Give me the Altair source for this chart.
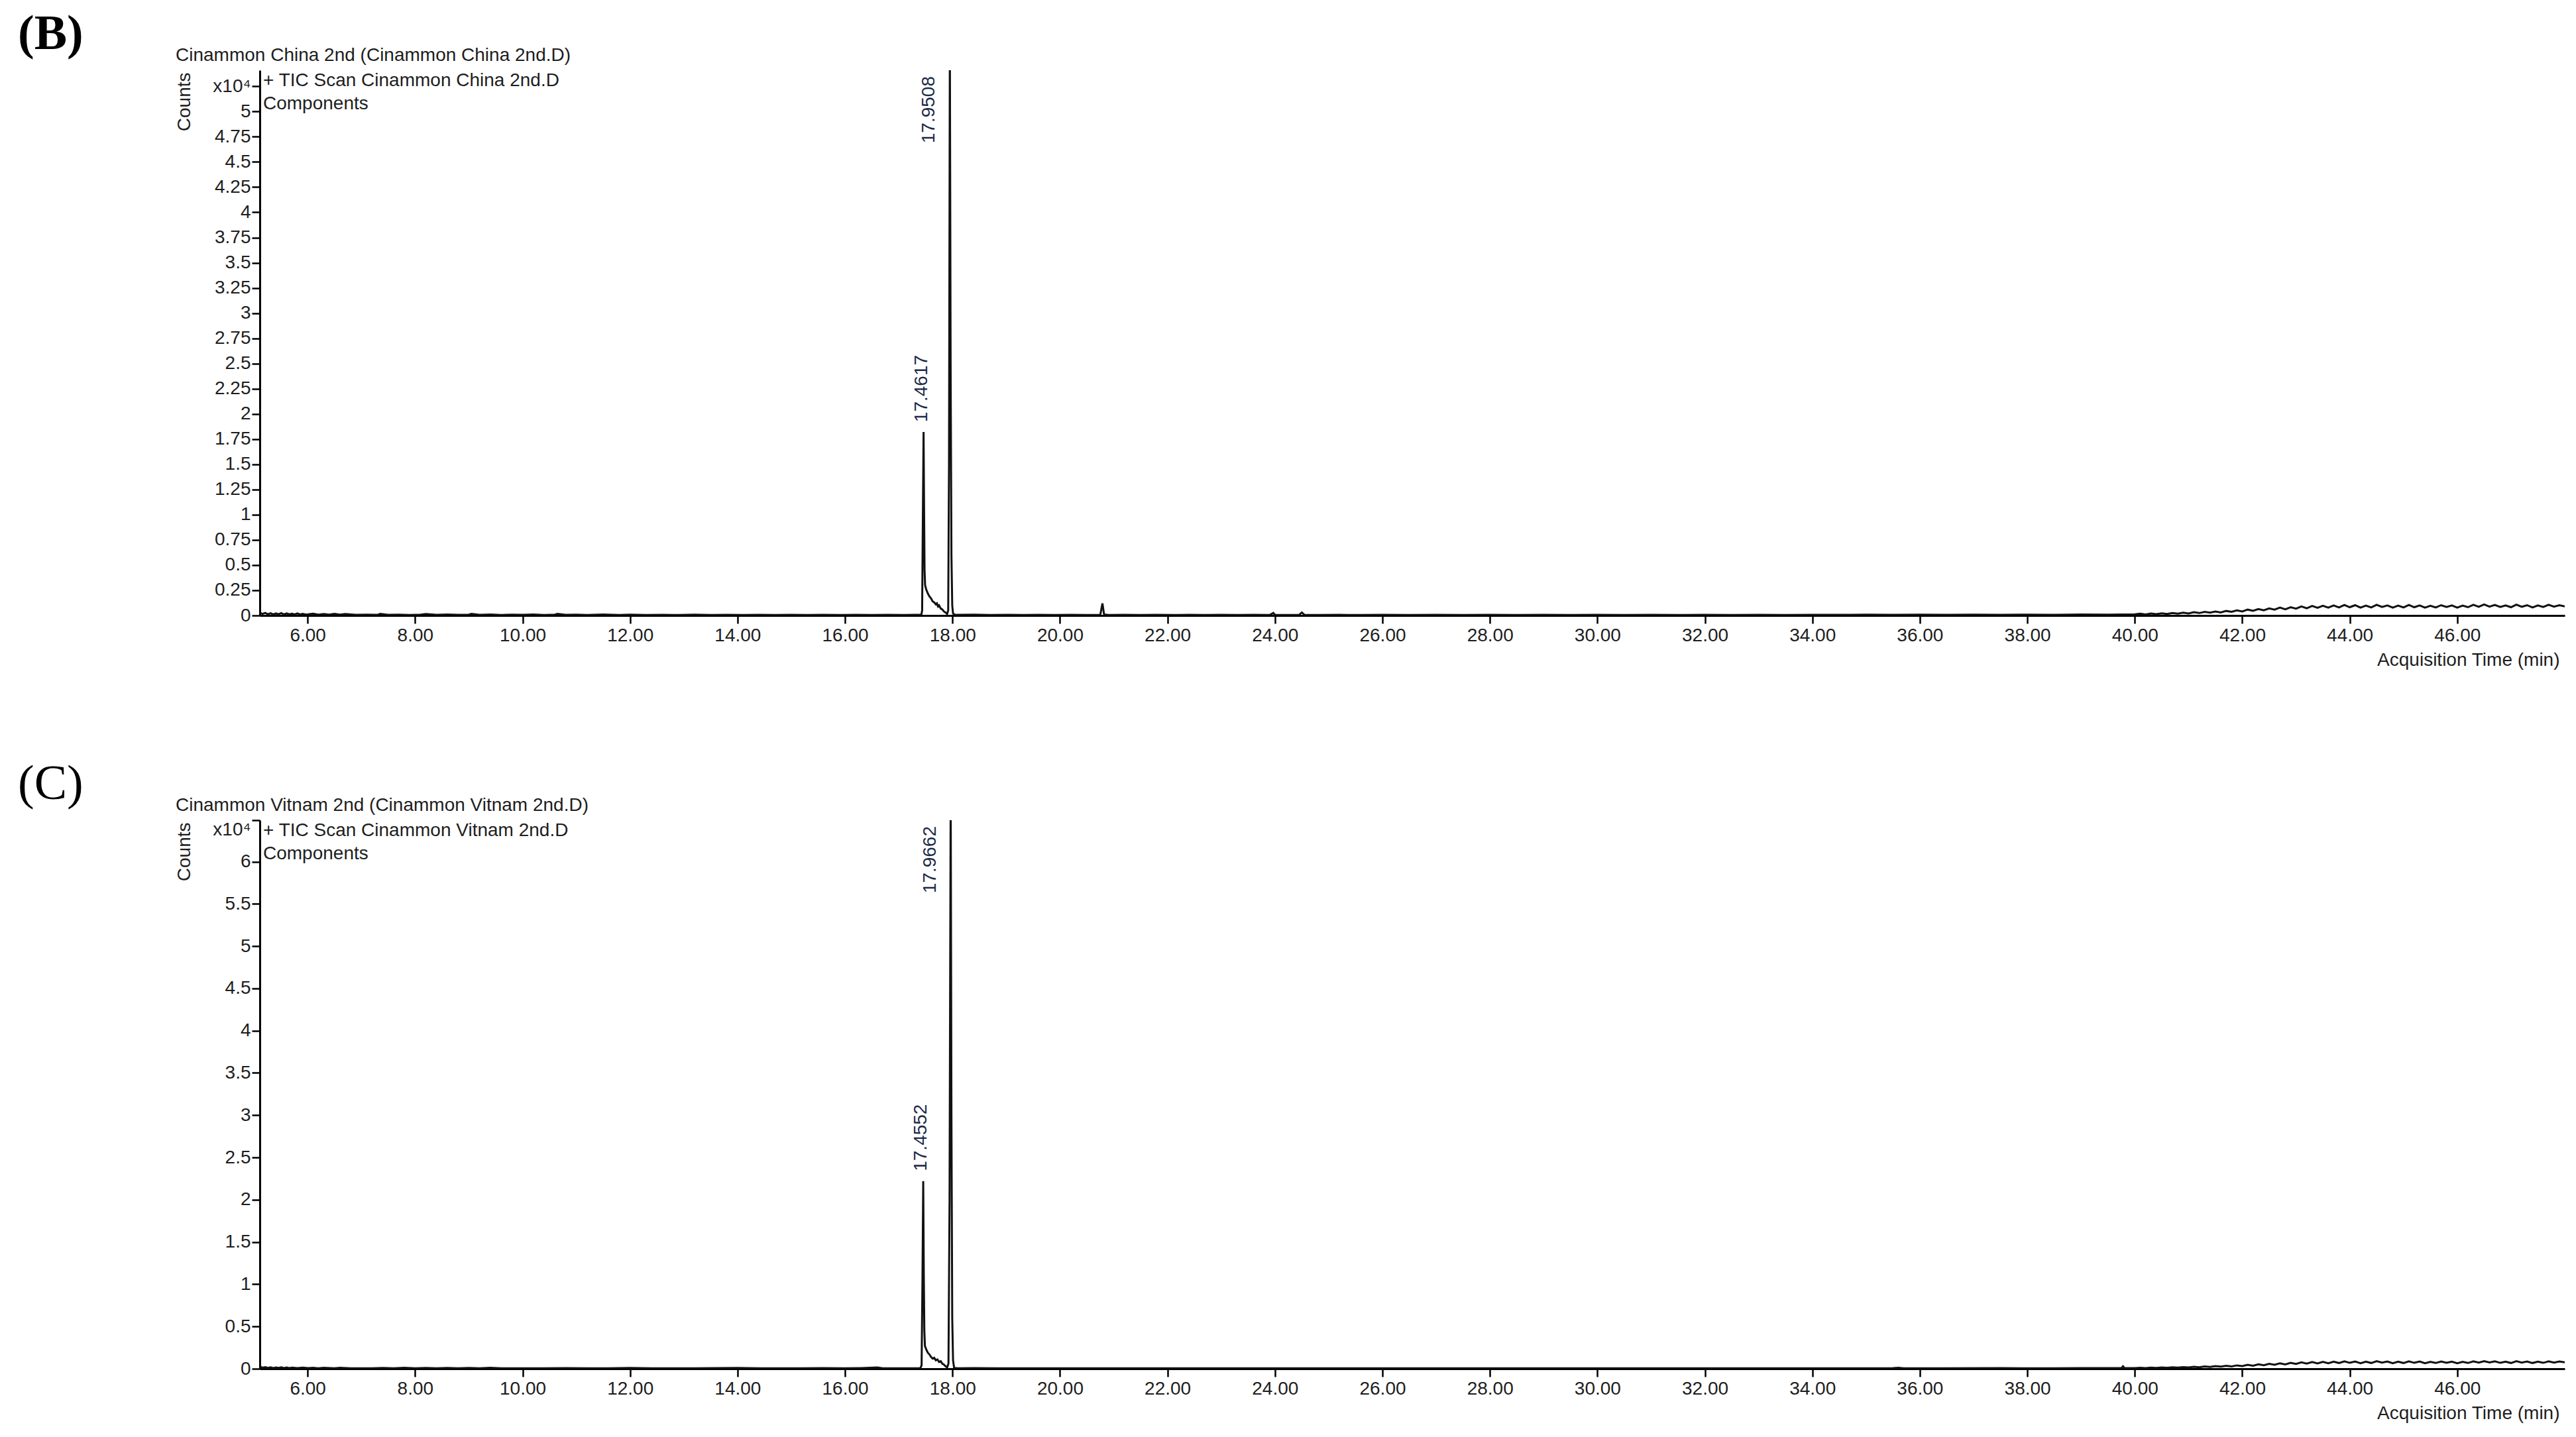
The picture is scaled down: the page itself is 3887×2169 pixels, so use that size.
import altair as alt
import pandas as pd

# ---------------- data (counts in units of x10^4) ----------------
X_TICKS = [6, 8, 10, 12, 14, 16, 18, 20, 22, 24, 26, 28, 30, 32, 34, 36, 38, 40, 42, 44, 46]
B_Y_TICKS = [0, 0.25, 0.5, 0.75, 1, 1.25, 1.5, 1.75, 2, 2.25, 2.5, 2.75, 3, 3.25, 3.5,
             3.75, 4, 4.25, 4.5, 4.75, 5, 5.25]
C_Y_TICKS = [0, 0.5, 1, 1.5, 2, 2.5, 3, 3.5, 4, 4.5, 5, 5.5, 6, 6.49]

B_EARLY = [(5.11, 0.03), (5.16, 0.015), (5.21, 0.025), (5.26, 0.012), (5.31, 0.022), (5.36, 0.01),
           (5.41, 0.02), (5.46, 0.012), (5.51, 0.024), (5.56, 0.01), (5.61, 0.02), (5.66, 0.012),
           (5.71, 0.018), (5.76, 0.01), (5.81, 0.02), (5.86, 0.01), (5.91, 0.016), (5.96, 0.01),
           (6.01, 0.012), (6.1, 0.018), (6.2, 0.008), (6.3, 0.015), (6.4, 0.008), (6.5, 0.016),
           (6.6, 0.008), (6.7, 0.014), (6.9, 0.006), (7.1, 0.008), (7.3, 0.006), (7.35, 0.016),
           (7.5, 0.006), (7.7, 0.008), (7.9, 0.005), (8.1, 0.008), (8.2, 0.015), (8.4, 0.006),
           (8.6, 0.01), (8.8, 0.006), (9.0, 0.008), (9.05, 0.016), (9.2, 0.006), (9.4, 0.01),
           (9.6, 0.005), (9.8, 0.008), (10.0, 0.006), (10.2, 0.01), (10.4, 0.005), (10.6, 0.008),
           (10.65, 0.016), (10.8, 0.006), (11.0, 0.008), (11.2, 0.005), (11.5, 0.01), (11.8, 0.005),
           (12.0, 0.008), (12.3, 0.005), (12.6, 0.007), (12.9, 0.005), (13.2, 0.008), (13.5, 0.005),
           (13.8, 0.007), (14.1, 0.005), (14.4, 0.007), (14.7, 0.005), (15.0, 0.006), (15.3, 0.005),
           (15.6, 0.007), (15.9, 0.005), (16.2, 0.006), (16.5, 0.005), (16.8, 0.006), (17.1, 0.005),
           (17.3, 0.006)]
B_PEAKS = [(17.42, 0.006), (17.435, 0.05), (17.447, 0.9), (17.4617, 1.82), (17.472, 1.0),
           (17.48, 0.45), (17.49, 0.30), (17.51, 0.26), (17.54, 0.22), (17.57, 0.19), (17.60, 0.17),
           (17.63, 0.14), (17.66, 0.13), (17.69, 0.11), (17.71, 0.12), (17.73, 0.09), (17.75, 0.10),
           (17.78, 0.07), (17.81, 0.06), (17.84, 0.04), (17.87, 0.03), (17.90, 0.015), (17.92, 0.05),
           (17.935, 1.5), (17.9508, 5.7), (17.965, 2.5), (17.98, 0.6), (17.995, 0.1), (18.01, 0.02),
           (18.04, 0.008)]
B_MID = [(18.1, 0.006), (18.4, 0.008), (18.7, 0.005), (19.0, 0.007), (19.3, 0.005), (19.6, 0.007),
         (19.9, 0.005), (20.2, 0.006), (20.5, 0.005), (20.75, 0.006), (20.79, 0.12), (20.82, 0.01),
         (20.9, 0.005), (21.2, 0.006), (21.5, 0.005), (21.8, 0.006), (22.1, 0.005), (22.4, 0.006),
         (22.7, 0.005), (23.0, 0.006), (23.3, 0.005), (23.6, 0.006), (23.9, 0.005), (23.97, 0.025),
         (24.0, 0.006), (24.2, 0.005), (24.45, 0.006), (24.5, 0.03), (24.55, 0.006), (24.8, 0.005),
         (25.2, 0.006), (25.6, 0.005), (26.0, 0.006), (26.5, 0.005), (27.0, 0.006), (27.5, 0.005),
         (28.0, 0.006), (28.5, 0.005), (29.0, 0.006), (29.5, 0.005), (30.0, 0.006), (30.5, 0.005),
         (31.0, 0.006), (31.5, 0.005), (32.0, 0.006), (32.5, 0.005), (33.0, 0.006), (33.5, 0.005),
         (34.0, 0.007), (34.5, 0.006), (35.0, 0.008), (35.5, 0.006), (36.0, 0.008), (36.5, 0.006),
         (37.0, 0.009), (37.5, 0.007), (38.0, 0.009), (38.5, 0.007), (39.0, 0.01), (39.5, 0.008)]
B_LATE = [(40.0, 0.012), (40.1, 0.018), (40.2, 0.010), (40.3, 0.020), (40.4, 0.014), (40.5, 0.022),
          (40.6, 0.015), (40.7, 0.025), (40.8, 0.018), (40.9, 0.028), (41.0, 0.020), (41.1, 0.032),
          (41.2, 0.024), (41.3, 0.036), (41.4, 0.028), (41.5, 0.040), (41.6, 0.030), (41.7, 0.045),
          (41.8, 0.036), (41.9, 0.050), (42.0, 0.040), (42.1, 0.058), (42.2, 0.046), (42.3, 0.064),
          (42.4, 0.052), (42.5, 0.070), (42.6, 0.058), (42.7, 0.078), (42.8, 0.062), (42.9, 0.082),
          (43.0, 0.068), (43.1, 0.090), (43.2, 0.072), (43.3, 0.094), (43.4, 0.076), (43.5, 0.096),
          (43.6, 0.078), (43.7, 0.100), (43.8, 0.080), (43.9, 0.104), (44.0, 0.082), (44.1, 0.102),
          (44.2, 0.078), (44.3, 0.098), (44.4, 0.080), (44.5, 0.106), (44.6, 0.084), (44.7, 0.100),
          (44.8, 0.078), (44.9, 0.098), (45.0, 0.080), (45.1, 0.104), (45.2, 0.082), (45.3, 0.100),
          (45.4, 0.078), (45.5, 0.096), (45.6, 0.080), (45.7, 0.102), (45.8, 0.084), (45.9, 0.100),
          (46.0, 0.078), (46.1, 0.098), (46.2, 0.082), (46.3, 0.106), (46.4, 0.086), (46.5, 0.110),
          (46.6, 0.088), (46.7, 0.104), (46.8, 0.084), (46.9, 0.100), (47.0, 0.082), (47.1, 0.108),
          (47.2, 0.086), (47.3, 0.102), (47.4, 0.080), (47.5, 0.100), (47.6, 0.084), (47.7, 0.106),
          (47.8, 0.088), (47.9, 0.102), (48.0, 0.090)]

C_EARLY = [(5.11, 0.03), (5.16, 0.012), (5.21, 0.02), (5.26, 0.01), (5.31, 0.018), (5.36, 0.008),
           (5.41, 0.016), (5.46, 0.01), (5.51, 0.018), (5.56, 0.008), (5.61, 0.015), (5.66, 0.008),
           (5.71, 0.014), (5.81, 0.008), (5.91, 0.013), (6.01, 0.007), (6.1, 0.012), (6.2, 0.006),
           (6.3, 0.012), (6.5, 0.006), (6.6, 0.011), (6.8, 0.005), (7.0, 0.006), (7.2, 0.005),
           (7.4, 0.01), (7.6, 0.005), (7.8, 0.011), (8.0, 0.005), (8.2, 0.01), (8.4, 0.005),
           (8.6, 0.009), (8.8, 0.005), (9.0, 0.01), (9.2, 0.005), (9.4, 0.012), (9.6, 0.005),
           (10.0, 0.006), (10.4, 0.005), (10.8, 0.007), (11.2, 0.005), (11.6, 0.006), (12.0, 0.009),
           (12.4, 0.005), (12.8, 0.006), (13.2, 0.005), (13.6, 0.007), (14.0, 0.009), (14.4, 0.005),
           (14.8, 0.006), (15.2, 0.005), (15.6, 0.007), (16.0, 0.005), (16.3, 0.008), (16.6, 0.015),
           (16.7, 0.006), (17.0, 0.005), (17.2, 0.006)]
C_PEAKS = [(17.40, 0.006), (17.425, 0.04), (17.44, 1.0), (17.4552, 2.22), (17.466, 1.1),
           (17.476, 0.45), (17.487, 0.27), (17.51, 0.23), (17.54, 0.19), (17.57, 0.17), (17.60, 0.14),
           (17.63, 0.12), (17.66, 0.13), (17.69, 0.10), (17.72, 0.11), (17.75, 0.08), (17.78, 0.09),
           (17.81, 0.06), (17.84, 0.05), (17.87, 0.03), (17.90, 0.015), (17.925, 0.06), (17.945, 2.0),
           (17.9662, 6.9), (17.98, 3.0), (17.995, 0.6), (18.01, 0.1), (18.03, 0.01)]
C_MID = [(18.1, 0.006), (18.4, 0.007), (18.8, 0.005), (19.2, 0.006), (19.6, 0.005), (20.0, 0.006),
         (20.5, 0.005), (21.0, 0.006), (21.5, 0.005), (22.0, 0.006), (22.5, 0.005), (23.0, 0.006),
         (23.5, 0.005), (24.0, 0.006), (24.5, 0.005), (25.0, 0.006), (25.5, 0.005), (26.0, 0.006),
         (26.5, 0.005), (27.0, 0.006), (27.5, 0.005), (28.0, 0.006), (28.5, 0.005), (29.0, 0.006),
         (29.5, 0.005), (30.0, 0.006), (30.5, 0.005), (31.0, 0.006), (31.5, 0.005), (32.0, 0.006),
         (32.5, 0.005), (33.0, 0.006), (33.5, 0.005), (34.0, 0.006), (34.5, 0.005), (35.0, 0.006),
         (35.5, 0.007), (35.6, 0.012), (35.7, 0.006), (36.5, 0.006), (37.5, 0.007), (38.5, 0.006),
         (39.0, 0.008), (39.5, 0.007), (39.75, 0.008), (39.78, 0.03), (39.81, 0.008)]
C_LATE = [(40.0, 0.008), (40.1, 0.012), (40.2, 0.008), (40.3, 0.014), (40.4, 0.010), (40.5, 0.016),
          (40.6, 0.012), (40.7, 0.018), (40.8, 0.013), (40.9, 0.020), (41.0, 0.015), (41.1, 0.024),
          (41.2, 0.018), (41.3, 0.028), (41.4, 0.022), (41.5, 0.032), (41.6, 0.025), (41.7, 0.036),
          (41.8, 0.028), (41.9, 0.040), (42.0, 0.032), (42.1, 0.046), (42.2, 0.036), (42.3, 0.052),
          (42.4, 0.042), (42.5, 0.058), (42.6, 0.048), (42.7, 0.064), (42.8, 0.052), (42.9, 0.070),
          (43.0, 0.058), (43.1, 0.076), (43.2, 0.062), (43.3, 0.080), (43.4, 0.064), (43.5, 0.082),
          (43.6, 0.066), (43.7, 0.084), (43.8, 0.068), (43.9, 0.088), (44.0, 0.070), (44.1, 0.086),
          (44.2, 0.066), (44.3, 0.084), (44.4, 0.068), (44.5, 0.090), (44.6, 0.072), (44.7, 0.086),
          (44.8, 0.066), (44.9, 0.084), (45.0, 0.068), (45.1, 0.088), (45.2, 0.070), (45.3, 0.086),
          (45.4, 0.066), (45.5, 0.082), (45.6, 0.068), (45.7, 0.086), (45.8, 0.070), (45.9, 0.084),
          (46.0, 0.066), (46.1, 0.082), (46.2, 0.068), (46.3, 0.088), (46.4, 0.072), (46.5, 0.090),
          (46.6, 0.074), (46.7, 0.088), (46.8, 0.070), (46.9, 0.084), (47.0, 0.068), (47.1, 0.090),
          (47.2, 0.072), (47.3, 0.086), (47.4, 0.068), (47.5, 0.084), (47.6, 0.070), (47.7, 0.088),
          (47.8, 0.072), (47.9, 0.086), (48.0, 0.076)]

B_PEAK_LABELS = [("17.4617", 17.4617, 1.82), ("17.9508", 17.9508, 5.7)]
C_PEAK_LABELS = [("17.4552", 17.4552, 2.22), ("17.9662", 17.9662, 6.9)]

X_MIN, X_MAX = 5.11, 48.0
PLOT_W = 3478

FONT = "Liberation Sans, Arial, sans-serif"
SERIF = "Liberation Serif, Times New Roman, serif"
TXT = "#1e1e1e"
PEAK_TXT = "#1c2a48"
FS = 28


def panel(letter, letter_weight, title, scan, segments, peak_labels, y_max, y_ticks, height,
          x10_test, x10_baseline):
    rows = [pt for seg in segments for pt in seg]
    df = pd.DataFrame(rows, columns=["t", "v"])

    xscale = alt.Scale(domain=[X_MIN, X_MAX], nice=False, zero=False)
    yscale = alt.Scale(domain=[0, y_max], nice=False, zero=False)

    y_axis = alt.Axis(
        values=y_ticks, tickCount=60, labelOverlap=False,
        labelExpr=f"datum.value > {x10_test} ? 'x10⁴' : format(datum.value, '~g')",
        labelBaseline=x10_baseline,
        title="Counts", titleAngle=270, titleAlign="right", titleBaseline="middle",
        titleX=-114, titleY=3, titleFontWeight="normal", titleFont=FONT, titleFontSize=FS,
        titleColor=TXT,
    )
    x_axis = alt.Axis(
        values=X_TICKS, tickCount=60, format=".2f", labelOverlap=False,
        title="Acquisition Time (min)", titleAnchor="end", titleAlign="right",
        titleBaseline="middle", titleX=PLOT_W - 8, titleY=67, titleFontWeight="normal",
        titleFont=FONT, titleFontSize=FS, titleColor=TXT,
    )

    line = alt.Chart(df).mark_line(color="#111111", strokeWidth=3, clip=True).encode(
        x=alt.X("t:Q", scale=xscale, axis=x_axis),
        y=alt.Y("v:Q", scale=yscale, axis=y_axis),
    )

    pk = pd.DataFrame(peak_labels, columns=["label", "t", "apex"])
    pk["ypos"] = pk["apex"].clip(upper=y_max)
    pk["off"] = pk["apex"] >= y_max

    low = alt.Chart(pk).transform_filter("!datum.off").mark_text(
        angle=270, align="left", baseline="middle", dx=15, dy=-3,
        font=FONT, fontSize=FS, color=PEAK_TXT,
    ).encode(x=alt.X("t:Q", scale=xscale), y=alt.Y("ypos:Q", scale=yscale), text="label:N")
    high = alt.Chart(pk).transform_filter("datum.off").mark_text(
        angle=270, align="right", baseline="middle", dx=-9, dy=-31,
        font=FONT, fontSize=FS, color=PEAK_TXT,
    ).encode(x=alt.X("t:Q", scale=xscale), y=alt.Y("ypos:Q", scale=yscale), text="label:N")

    def note(text, x, y, font=FONT, size=FS, weight="normal", color=TXT):
        return alt.Chart(pd.DataFrame({"s": [text]})).mark_text(
            align="left", baseline="middle", font=font, fontSize=size, fontWeight=weight,
            color=color,
        ).encode(x=alt.value(x), y=alt.value(y), text="s:N")

    letter_t = note(letter, -365, -54, font=SERIF, size=74, weight=letter_weight, color="#000000")
    title_t = note(title, -127, -22)
    scan_t = note(scan, 5, 16)
    comp_t = note("Components", 5, 51)

    return alt.layer(line, low, high, letter_t, title_t, scan_t, comp_t).properties(
        width=PLOT_W, height=height
    )


top = panel("(B)", "bold", "Cinammon China 2nd (Cinammon China 2nd.D)",
            "+ TIC Scan Cinammon China 2nd.D",
            [B_EARLY, B_PEAKS, B_MID, B_LATE], B_PEAK_LABELS, 5.41, B_Y_TICKS, 823,
            5.2, "middle")
bottom = panel("(C)", "normal", "Cinammon Vitnam 2nd (Cinammon Vitnam 2nd.D)",
               "+ TIC Scan Cinammon Vitnam 2nd.D",
               [C_EARLY, C_PEAKS, C_MID, C_LATE], C_PEAK_LABELS, 6.49, C_Y_TICKS, 828,
               6.4, {"condition": {"test": "datum.value > 6.4", "value": "top"}, "value": "middle"})

chart = alt.vconcat(top, bottom, spacing=137).properties(
    padding={"left": 19, "top": 7, "right": 5, "bottom": 5},
    background="white",
).configure_view(stroke=None).configure_axis(
    grid=False,
    domainColor="#000000", domainWidth=3,
    tickColor="#000000", tickWidth=2.5, tickSize=12,
    labelFont=FONT, labelFontSize=FS, labelColor=TXT, labelPadding=2,
).configure_axisX(labelPadding=4)

chart.save("out.html", embed_options={"renderer": "svg", "actions": False})
